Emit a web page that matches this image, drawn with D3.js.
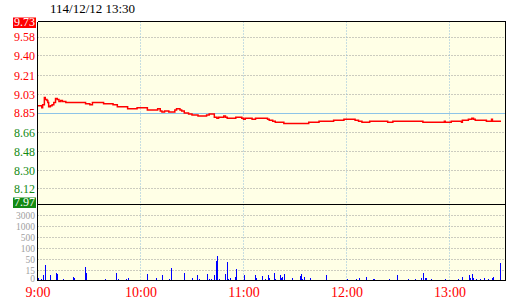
<!DOCTYPE html>
<html>
<head>
<meta charset="utf-8">
<script src="https://cdn.jsdelivr.net/npm/d3@7"></script>
<style>
  body { margin: 0; background: #fff; }
  svg text { font-family: "Liberation Serif", "DejaVu Serif", serif; }
</style>
</head>
<body>
<svg id="chart" width="520" height="300"></svg>
<script>
const title = "114/12/12 13:30";
const prevClose = 8.85;
const priceTicks = [9.73, 9.58, 9.40, 9.21, 9.03, 8.85, 8.66, 8.48, 8.30, 8.12, 7.97];
const volTicks = [0, 15, 50, 100, 500, 1000, 3000];
const hourTicks = [0, 60, 120, 180, 240];
const hourLabels = ["9:00", "10:00", "11:00", "12:00", "13:00"];

// price steps: minutes after 9:00, price
const priceMin = [0, 2.5, 3, 4, 4.5, 5.5, 6, 6.5, 7.5, 8.5, 9.5, 10.5, 11.5, 12.5, 13.5, 14.5, 16.5,
  28, 30.5, 32, 38.5, 44, 46.5, 52.5, 58, 64, 70, 71.5, 72.5, 74, 76.5, 80, 81, 83, 84, 85.5, 88,
  90, 93.5, 98.5, 100, 103, 104.5, 105.5, 108.5, 109.5, 110.5, 115.5, 119, 120, 121, 125, 127,
  134, 135, 137, 138.5, 143.5, 158, 164, 172.5, 178.5, 185, 187, 189, 193.5, 204, 207, 224.5,
  237, 237.5, 241, 247, 247.5, 251, 253, 254, 255, 261.5, 264.5, 265, 270];
const priceVal = [8.92, 8.90, 8.93, 9.00, 8.98, 8.97, 8.95, 8.91, 8.92, 8.93, 8.95, 8.99, 8.98, 8.96, 8.97, 8.96, 8.95,
  8.94, 8.93, 8.95, 8.94, 8.93, 8.91, 8.89, 8.90, 8.88, 8.89, 8.87, 8.86, 8.87, 8.86, 8.88, 8.89, 8.88, 8.87, 8.85, 8.84,
  8.83, 8.82, 8.83, 8.84, 8.81, 8.80, 8.81, 8.82, 8.81, 8.80, 8.81, 8.80, 8.79, 8.80, 8.79, 8.80,
  8.79, 8.78, 8.77, 8.76, 8.75, 8.76, 8.77, 8.78, 8.79, 8.78, 8.77, 8.76, 8.77, 8.76, 8.77, 8.76,
  8.77, 8.76, 8.77, 8.76, 8.78, 8.79, 8.80, 8.79, 8.78, 8.77, 8.79, 8.77, 8.77];

// volume bars: minutes after 9:00, lots
const volMin = [0, 2, 3, 4.5, 7, 10.5, 11.5, 15, 20.5, 21.5, 27.5, 28.5, 39.5, 46, 47, 51.5, 53,
  63.5, 64, 69, 72.5, 76.5, 78, 85.5, 90, 93, 94, 98.5, 99, 100, 101, 103, 104, 104.5, 105.5,
  109.5, 110.5, 111, 112, 115, 115.5, 120, 126.5, 127.5, 130.5, 132.5, 134.5, 135, 138, 138.5,
  141, 142, 142.5, 143.5, 148, 153, 153.5, 154, 155, 158.5, 168, 180.5, 185.5, 187.5, 191.5,
  195.5, 196, 205, 209.5, 216, 220, 223.5, 224.5, 226, 226.5, 229.5, 237.5, 245, 247, 247.5,
  251.5, 252, 253, 253.5, 255.5, 258, 260, 262.5, 264.5, 265.5, 269.5];
const volVal = [4, 3, 9, 32, 9, 11, 10, 2, 6, 4, 26, 11, 2, 11, 2, 3, 4,
  10, 4, 4, 9, 3, 23, 11, 4, 9, 3, 6, 10, 3, 3, 9, 45, 66, 3,
  10, 42, 3, 4, 6, 20, 9, 9, 4, 7, 3, 9, 4, 11, 3,
  9, 4, 6, 10, 4, 7, 10, 3, 6, 4, 9, 3, 3, 4, 6,
  3, 3, 3, 9, 3, 3, 4, 11, 4, 4, 3, 3, 3, 4, 6,
  9, 4, 10, 4, 3, 3, 4, 3, 4, 6, 39];

const prices = priceMin.map((m, i) => ({ m: m, p: priceVal[i] }));
const volumes = volMin.map((m, i) => ({ m: m, v: volVal[i] }));

const svg = d3.select("#chart");
const plotLeft = 37.5, plotRight = 505.5, plotTop = 21.5, splitY = 204.5, plotBottom = 280.5;
const crisp = v => Math.floor(v) + 0.5;

const x = d3.scaleLinear().domain([0, 270]).range([37.5, 501]);
const yPrice = d3.scaleLinear().domain([7.97, 9.73]).range([splitY, plotTop]);
// volume axis is piecewise, ticks evenly spaced
const yVol = d3.scaleLinear().domain(volTicks)
    .range([plotBottom, 270.5, 259.5, 248.5, 237.5, 226.5, 215.5]);

const up = "#ff0000", down = "#138a13";

// background
svg.append("rect")
    .attr("x", plotLeft).attr("y", plotTop)
    .attr("width", plotRight - plotLeft).attr("height", plotBottom - plotTop)
    .attr("fill", "#ffffe6");

// grid
const grid = svg.append("g").attr("class", "grid");
grid.selectAll(".hgrid")
  .data(priceTicks.filter(d => d !== 9.73 && d !== 7.97 && d !== prevClose))
  .join("line")
    .attr("x1", plotLeft).attr("x2", plotRight)
    .attr("y1", d => crisp(yPrice(d))).attr("y2", d => crisp(yPrice(d)))
    .attr("stroke", "#999").attr("stroke-dasharray", "1,2");

grid.selectAll(".vgrid")
  .data(volTicks.filter(d => d > 0))
  .join("line")
    .attr("x1", plotLeft).attr("x2", plotRight)
    .attr("y1", d => crisp(yVol(d))).attr("y2", d => crisp(yVol(d)))
    .attr("stroke", "#999").attr("stroke-dasharray", "1,2");

grid.selectAll(".tgrid")
  .data(hourTicks.filter(d => d > 0))
  .join("line")
    .attr("x1", d => crisp(x(d))).attr("x2", d => crisp(x(d)))
    .attr("y1", plotTop).attr("y2", plotBottom)
    .attr("stroke", "#8fbcdc").attr("stroke-dasharray", "1,2");

grid.append("line")
    .attr("x1", plotLeft).attr("x2", plotRight)
    .attr("y1", crisp(yPrice(prevClose))).attr("y2", crisp(yPrice(prevClose)))
    .attr("stroke", "#8ec4e8");

// volume bars
svg.append("g")
  .selectAll("rect")
  .data(volumes)
  .join("rect")
    .attr("x", d => Math.round(x(d.m)))
    .attr("y", d => Math.round(yVol(d.v)))
    .attr("width", 1)
    .attr("height", d => plotBottom - Math.round(yVol(d.v)))
    .attr("fill", "#0000ff")
    .attr("shape-rendering", "crispEdges");

// price line
const line = d3.line()
    .x(d => x(d.m))
    .y(d => yPrice(d.p))
    .curve(d3.curveStepAfter);

svg.append("path")
    .datum(prices)
    .attr("fill", "none")
    .attr("stroke", "#ff0000")
    .attr("stroke-width", 1.5)
    .attr("d", line);

// frame
const frame = svg.append("g").attr("stroke", "#000").attr("shape-rendering", "crispEdges");
frame.append("line").attr("x1", plotLeft).attr("x2", plotRight).attr("y1", plotTop).attr("y2", plotTop);
frame.append("line").attr("x1", plotLeft).attr("x2", plotRight).attr("y1", splitY).attr("y2", splitY);
frame.append("line").attr("x1", plotLeft).attr("x2", plotRight).attr("y1", plotBottom).attr("y2", plotBottom);
frame.append("line").attr("x1", plotLeft).attr("x2", plotLeft).attr("y1", plotTop).attr("y2", plotBottom);
frame.append("line").attr("x1", plotRight).attr("x2", plotRight).attr("y1", plotTop).attr("y2", plotBottom);

// price axis
const gPrice = svg.append("g")
    .attr("transform", "translate(37,0)")
    .call(d3.axisLeft(yPrice).tickValues(priceTicks).tickSize(0).tickPadding(2).tickFormat(d3.format(".2f")));
gPrice.select(".domain").remove();
gPrice.attr("font-family", null);
gPrice.selectAll("text")
    .attr("font-size", 12)
    .attr("fill", d => d >= prevClose ? up : down);
gPrice.selectAll(".tick").filter(d => d === 7.97).attr("transform", d => "translate(0," + (yPrice(d) - 2) + ")");
gPrice.selectAll(".tick").filter(d => d === 9.73).attr("transform", d => "translate(0," + (yPrice(d) + 1) + ")");
gPrice.selectAll(".tick").filter(d => d === 9.73 || d === 7.97).each(function(d) {
  const t = d3.select(this).select("text");
  const b = t.node().getBBox();
  d3.select(this).insert("rect", "text")
      .attr("x", b.x - 1).attr("y", -5)
      .attr("width", b.width + 2).attr("height", 10.5)
      .attr("fill", d >= prevClose ? up : down);
  t.attr("fill", "#fff");
});

// volume axis
const gVol = svg.append("g")
    .attr("transform", "translate(37,0)")
    .call(d3.axisLeft(yVol).tickValues(volTicks).tickSize(0).tickPadding(2).tickFormat(d3.format("d")));
gVol.select(".domain").remove();
gVol.attr("font-family", null);
gVol.selectAll("text")
    .attr("font-size", 9.5)
    .attr("fill", "#a0a0a0");
gVol.selectAll(".tick").filter(d => d === 0).attr("transform", d => "translate(0," + (yVol(d) - 1.5) + ")");

// time axis
const gTime = svg.append("g")
    .attr("transform", "translate(0,280)")
    .call(d3.axisBottom(x).tickValues(hourTicks).tickSize(0).tickPadding(7.5)
      .tickFormat((d, i) => hourLabels[i]));
gTime.select(".domain").remove();
gTime.attr("font-family", null);
gTime.selectAll("text")
    .attr("font-size", 14)
    .attr("fill", "#ff0000");

svg.append("text")
    .attr("x", 50).attr("y", 12.5)
    .attr("font-size", 13)
    .attr("fill", "#000")
    .text(title);
</script>
</body>
</html>
